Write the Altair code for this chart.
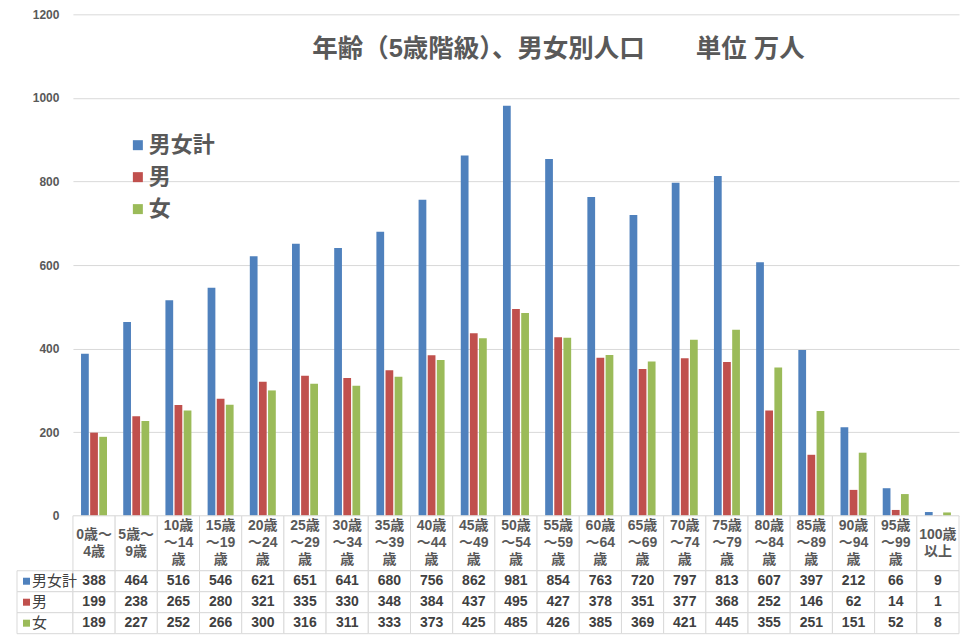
import altair as alt
import pandas as pd

ages = ["0歳～4歳", "5歳～9歳", "10歳～14歳", "15歳～19歳", "20歳～24歳", "25歳～29歳",
        "30歳～34歳", "35歳～39歳", "40歳～44歳", "45歳～49歳", "50歳～54歳", "55歳～59歳",
        "60歳～64歳", "65歳～69歳", "70歳～74歳", "75歳～79歳", "80歳～84歳", "85歳～89歳",
        "90歳～94歳", "95歳～99歳", "100歳以上"]
header_labels = ["0歳～\n4歳", "5歳～\n9歳", "10歳\n～14\n歳", "15歳\n～19\n歳", "20歳\n～24\n歳",
                 "25歳\n～29\n歳", "30歳\n～34\n歳", "35歳\n～39\n歳", "40歳\n～44\n歳",
                 "45歳\n～49\n歳", "50歳\n～54\n歳", "55歳\n～59\n歳", "60歳\n～64\n歳",
                 "65歳\n～69\n歳", "70歳\n～74\n歳", "75歳\n～79\n歳", "80歳\n～84\n歳",
                 "85歳\n～89\n歳", "90歳\n～94\n歳", "95歳\n～99\n歳", "100歳\n以上"]
series = ["男女計", "男", "女"]
total = [388, 464, 516, 546, 621, 651, 641, 680, 756, 862, 981, 854, 763, 720, 797, 813, 607, 397, 212, 66, 9]
male = [199, 238, 265, 280, 321, 335, 330, 348, 384, 437, 495, 427, 378, 351, 377, 368, 252, 146, 62, 14, 1]
female = [189, 227, 252, 266, 300, 316, 311, 333, 373, 425, 485, 426, 385, 369, 421, 445, 355, 251, 151, 52, 8]
colors = ["#4F81BD", "#C0504D", "#9BBB59"]
title_text = "年齢（5歳階級）、男女別人口　　単位 万人"

FONT = '"Liberation Sans", "Noto Sans CJK JP", sans-serif'
GRID = "#D9D9D9"
TEXT = "#595959"
W = 887
HDR_H = 55
LINE_H = 17

rows = []
for name, vals in zip(series, [total, male, female]):
    for age, v in zip(ages, vals):
        rows.append({"age": age, "series": name, "value": v})
df = pd.DataFrame(rows)

# bar part
bars = alt.Chart(df).mark_bar().encode(
    x=alt.X("age:N", sort=ages, axis=None,
            scale=alt.Scale(paddingInner=0.384, paddingOuter=0.192)),
    xOffset=alt.XOffset("series:N", sort=series,
                        scale=alt.Scale(paddingInner=0.15, paddingOuter=0)),
    y=alt.Y("value:Q", scale=alt.Scale(domain=[0, 1200]),
            axis=alt.Axis(values=[0, 200, 400, 600, 800, 1000, 1200], format="d", title=None,
                          domain=False, ticks=False, gridColor=GRID,
                          labelFont=FONT, labelFontSize=12, labelFontWeight="bold",
                          labelColor=TEXT, labelPadding=14)),
    color=alt.Color("series:N", sort=series,
                    scale=alt.Scale(domain=series, range=colors),
                    legend=alt.Legend(title=None, orient="none", legendX=54, legendY=120,
                                      symbolType="square", symbolSize=100,
                                      symbolStrokeWidth=0, symbolOpacity=1,
                                      labelFont=FONT, labelFontSize=22,
                                      labelFontWeight="bold", labelColor=TEXT,
                                      rowPadding=10, labelOffset=0, padding=0)),
)

title = alt.Chart(pd.DataFrame({"t": [title_text]})).mark_text(
    font=FONT, fontSize=25.5, fontWeight="bold", color=TEXT
).encode(x=alt.value(486), y=alt.value(35), text="t:N")

top = alt.layer(bars, title).properties(width=W, height=502)

# header row of the data table: one text row per wrapped line, centred in the cell
hdr_rows = []
for age, lab in zip(ages, header_labels):
    parts = lab.split("\n")
    for i, part in enumerate(parts):
        hdr_rows.append({"age": age, "line": part, "pos": i - (len(parts) - 1) / 2})
hdr_df = pd.DataFrame(hdr_rows)
half = HDR_H / LINE_H / 2

hdr_x = alt.X("age:N", sort=ages, axis=None, scale=alt.Scale(paddingInner=0, paddingOuter=0))
hdr_cells = alt.Chart(pd.DataFrame({"age": ages})).mark_rect(
    fill="white", stroke=GRID, strokeWidth=1).encode(x=hdr_x)
hdr_text = alt.Chart(hdr_df).mark_text(
    font=FONT, fontSize=14, fontWeight="bold", color=TEXT
).encode(
    x=hdr_x,
    y=alt.Y("pos:Q", axis=None, scale=alt.Scale(domain=[-half, half], reverse=True)),
    text="line:N",
)
header = alt.layer(hdr_cells, hdr_text).properties(width=W, height=HDR_H)

# value rows
tbl_x = alt.X("age:N", sort=ages, axis=None, scale=alt.Scale(paddingInner=0, paddingOuter=0))
tbl_y = alt.Y("series:N", sort=series, axis=None, scale=alt.Scale(paddingInner=0, paddingOuter=0))
ser_df = pd.DataFrame({"series": series})

cells = alt.Chart(df).mark_rect(fill="white", stroke=GRID, strokeWidth=1).encode(x=tbl_x, y=tbl_y)
vals = alt.Chart(df).mark_text(
    font=FONT, fontSize=14, fontWeight="bold", color="#404040"
).encode(x=tbl_x, y=tbl_y, text="value:Q")
label_cells = alt.Chart(ser_df).mark_rect(fill="white", stroke=GRID, strokeWidth=1).encode(
    x=alt.value(-56), x2=alt.value(0), y=tbl_y)
squares = alt.Chart(ser_df).mark_square(size=49, opacity=1).encode(
    x=alt.value(-46.5), y=tbl_y,
    color=alt.Color("series:N", sort=series, scale=alt.Scale(domain=series, range=colors),
                    legend=None))
labels = alt.Chart(ser_df).mark_text(
    align="left", font=FONT, fontSize=15, color="#404040"
).encode(x=alt.value(-41), y=tbl_y, text="series:N")

table = alt.layer(label_cells, cells, vals, squares, labels).properties(width=W, height=63)

chart = alt.vconcat(top, header, table, spacing=0, bounds="flush").resolve_scale(
    x="independent", y="independent", color="independent"
).properties(
    padding={"left": 8, "top": 0, "right": 8, "bottom": 0}
).configure_view(stroke=None)

chart.save("out.html", embed_options={"renderer": "svg", "actions": False})
